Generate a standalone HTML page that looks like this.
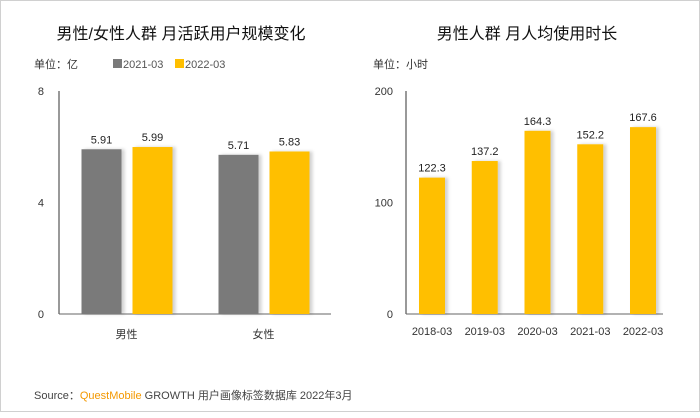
<!DOCTYPE html>
<html><head><meta charset="utf-8"><style>
body{margin:0;width:700px;height:412px;background:#fff;overflow:hidden;font-family:"Liberation Sans","Noto Sans CJK SC",sans-serif}
#wrap{position:absolute;left:0;top:0;width:698px;height:410px;border:1px solid #d0d0d0}
svg text{font-family:"Liberation Sans","Noto Sans CJK SC",sans-serif}
</style></head><body>
<div id="wrap">
<svg id="s" width="700" height="412">
<defs><filter id="sh" x="-20%" y="-5%" width="160%" height="110%"><feDropShadow dx="3" dy="0" stdDeviation="1.5" flood-color="#000" flood-opacity="0.18"/></filter></defs>
<text x="180" y="38" font-size="16" text-anchor="middle" fill="#111">男性/女性人群 月活跃用户规模变化</text>
<text x="33" y="67" font-size="11" fill="#333">单位：亿</text>
<rect x="112" y="58" width="9" height="9" fill="#7a7a7a"/>
<text x="122" y="67" font-size="11" fill="#555">2021-03</text>
<rect x="174" y="58" width="9" height="9" fill="#ffbf00"/>
<text x="184" y="67" font-size="11" fill="#555">2022-03</text>
<text x="526" y="38" font-size="16" text-anchor="middle" fill="#111">男性人群 月人均使用时长</text>
<text x="372" y="67" font-size="11" fill="#333">单位：小时</text>
<g id="L"></g><g id="R"></g>
<text x="33" y="398" font-size="11" fill="#444">Source：<tspan fill="#f39800">QuestMobile</tspan> GROWTH 用户画像标签数据库 2022年3月</text>
</svg></div>
<script>
const genders=["男性","女性"];
const mau2021=[5.91,5.71];
const mau2022=[5.99,5.83];
const leftTicks=[0,4,8];
const months=["2018-03","2019-03","2020-03","2021-03","2022-03"];
const hours=[122.3,137.2,164.3,152.2,167.6];
const rightTicks=[0,100,200];
const NS="http://www.w3.org/2000/svg";
function mk(p,t,a,txt){const e=document.createElementNS(NS,t);for(const k in a)e.setAttribute(k,a[k]);if(txt!=null)e.textContent=txt;p.appendChild(e);return e;}
const L=document.getElementById('L'),R=document.getElementById('R');
const y0=313,yTop=90;
const ly=v=>y0-(v/8)*(y0-yTop);
const ry=v=>y0-(v/200)*(y0-yTop);
// left axes
let e=mk(L,'line',{x1:58,y1:yTop,x2:58,y2:y0,stroke:'#333'});

e=mk(L,'line',{x1:58,y1:y0,x2:330,y2:y0,stroke:'#666'});

leftTicks.forEach(t=>{const el=mk(L,'text',{x:43,y:ly(t)+4,'font-size':11,'text-anchor':'end',fill:'#333'},t);
});
const lc=[125.5,262.5];
genders.forEach((g,i)=>{
 const c=lc[i];
 [[mau2021[i],c-45,'#7a7a7a'],[mau2022[i],c+6,'#ffbf00']].forEach(([v,x,col],j)=>{
  const b=mk(L,'rect',{x:x,y:ly(v),width:40,height:y0-ly(v),fill:col,filter:'url(#sh)'});
  
  const t=mk(L,'text',{x:x+20,y:ly(v)-6,'font-size':11,'text-anchor':'middle',fill:'#222'},v.toFixed(2));
  
 });
 const t=mk(L,'text',{x:c,y:337,'font-size':11,'text-anchor':'middle',fill:'#333'},g);
 
});
// right
e=mk(R,'line',{x1:405,y1:yTop,x2:405,y2:y0,stroke:'#333'});

e=mk(R,'line',{x1:405,y1:y0,x2:662,y2:y0,stroke:'#666'});

rightTicks.forEach(t=>{const el=mk(R,'text',{x:392,y:ry(t)+4,'font-size':11,'text-anchor':'end',fill:'#333'},t);
});
months.forEach((m,i)=>{
 const c=431+i*52.75,v=hours[i];
 const b=mk(R,'rect',{x:c-13,y:ry(v),width:26,height:y0-ry(v),fill:'#ffbf00',filter:'url(#sh)'});
 
 let t=mk(R,'text',{x:c,y:ry(v)-6,'font-size':11,'text-anchor':'middle',fill:'#222'},v.toFixed(1));
 
 t=mk(R,'text',{x:c,y:334,'font-size':11,'text-anchor':'middle',fill:'#333'},m);
 
});
</script>
</body></html>
